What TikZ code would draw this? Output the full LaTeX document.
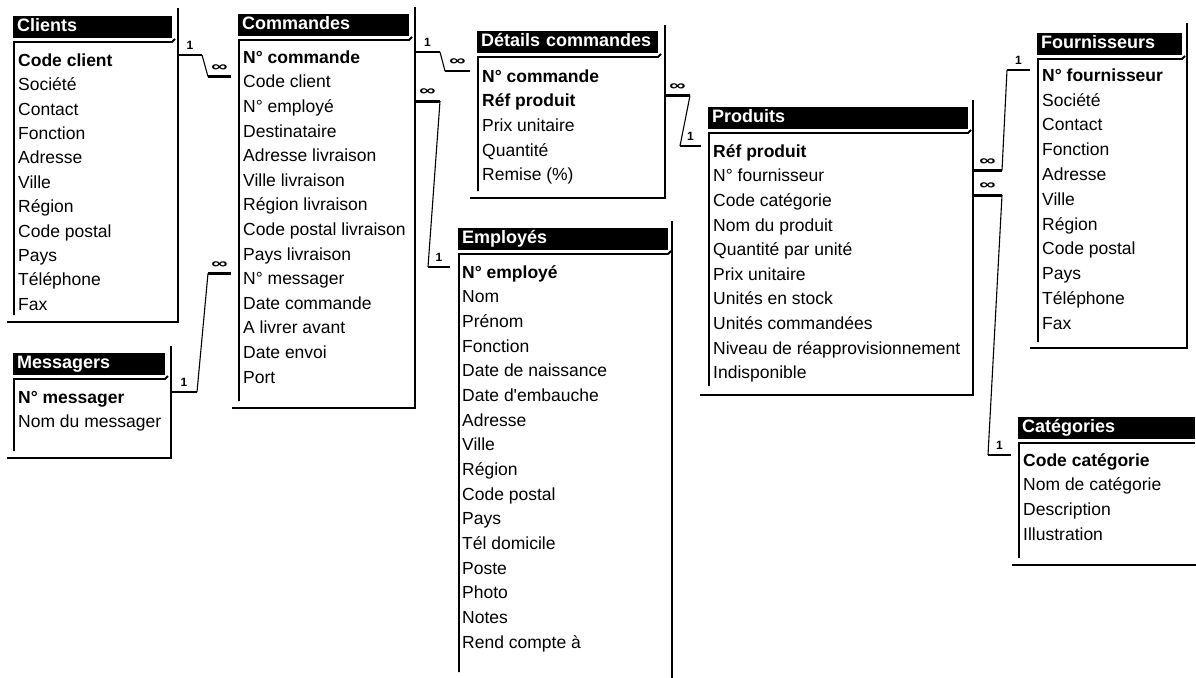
\documentclass[tikz,border=0pt]{standalone}
\usepackage{fontspec}
\usepackage{graphicx}
\setmainfont{Liberation Sans}
\newcommand{\manysym}{\scalebox{1.9}[1.2]{∞}}
\begin{document}
\begin{tikzpicture}[x=1pt,y=-1pt,
  titlebar/.style={anchor=north west, fill=black, text=white, font=\fontsize{18}{20}\selectfont\bfseries,
    inner xsep=4pt, inner ysep=0pt, minimum height=22pt, text height=13pt, text depth=4pt, align=left},
  field/.style={anchor=west, inner sep=0pt, text height=12.6pt, text depth=0pt, font=\fontsize{17.5}{19}\selectfont},
  keyfield/.style={field, font=\fontsize{17.5}{19}\selectfont\bfseries},
  frame/.style={line width=2.6pt},
  edge/.style={line width=1.8pt},
  stub/.style={line width=2.6pt},
  link/.style={line width=1.1pt},
  card/.style={midway, above=4pt, inner sep=0pt, font=\fontsize{12}{12}\selectfont\bfseries}]
  \useasboundingbox (0,0) rectangle (1196,677);
  % table Clients
  \node[titlebar, text width=151pt] (cli) at (13,16) {Clients};
  \coordinate (cli-ne) at (178,8);
  \draw[frame] (cli-ne) -- (178,322) -- (7,322);
  \draw[edge] (14,315) -- (14,42) -- (172,42) -- (175,39);
  \node[keyfield] (cli-1) at (18,60) {Code client};
  \foreach \f [count=\i from 2] in {Société,Contact,Fonction,Adresse,Ville,Région,Code postal,Pays,Téléphone,Fax}
    \node[field] (cli-\i) at (18,{60+(\i-1)*24.4}) {\f};
  % table Messagers
  \node[titlebar, text width=144pt] (mes) at (13,353) {Messagers};
  \coordinate (mes-ne) at (171,346);
  \draw[frame] (mes-ne) -- (171,458) -- (7,458);
  \draw[edge] (14,451) -- (14,379) -- (165,379) -- (168,376);
  \node[keyfield] (mes-1) at (18,397) {N° messager};
  \node[field] (mes-2) at (18,421.6) {Nom du messager};
  % table Commandes
  \node[titlebar, text width=163pt] (cmd) at (238,14) {Commandes};
  \coordinate (cmd-ne) at (415,7);
  \draw[frame] (cmd-ne) -- (415,408) -- (232,408);
  \draw[edge] (239,401) -- (239,40) -- (409,40) -- (412,37);
  \node[keyfield] (cmd-1) at (243,57) {N° commande};
  \foreach \f [count=\i from 2] in {Code client,N° employé,Destinataire,Adresse livraison,Ville livraison,Région livraison,Code postal livraison,Pays livraison,N° messager,Date commande,A livrer avant,Date envoi,Port}
    \node[field] (cmd-\i) at (243,{57+(\i-1)*24.6}) {\f};
  % table Details commandes
  \node[titlebar, text width=173pt] (det) at (477,31) {Détails commandes};
  \coordinate (det-ne) at (665,25);
  \draw[frame] (det-ne) -- (665,198) -- (470,198);
  \draw[edge] (478,191) -- (478,57) -- (658,57) -- (661,54);
  \node[keyfield] (det-1) at (482,76) {N° commande};
  \node[keyfield] (det-2) at (482,100.6) {Réf produit};
  \foreach \f [count=\i from 3] in {Prix unitaire,Quantité,Remise (\%)}
    \node[field] (det-\i) at (482,{76+(\i-1)*24.6}) {\f};
  % table Employes
  \node[titlebar, text width=202pt] (emp) at (458,228) {Employés};
  \coordinate (emp-ne) at (672,221);
  \draw[frame] (emp-ne) -- (672,680);
  \draw[edge] (459,672) -- (459,254) -- (668,254) -- (671,251);
  \node[keyfield] (emp-1) at (462,272) {N° employé};
  \foreach \f [count=\i from 2] in {Nom,Prénom,Fonction,Date de naissance,Date d\textquotesingle embauche,Adresse,Ville,Région,Code postal,Pays,Tél domicile,Poste,Photo,Notes,Rend compte à}
    \node[field] (emp-\i) at (462,{272+(\i-1)*24.65}) {\f};
  % table Produits
  \node[titlebar, text width=252pt] (pro) at (708,107) {Produits};
  \coordinate (pro-ne) at (973,100);
  \draw[frame] (pro-ne) -- (973,395) -- (700,395);
  \draw[edge] (709,386) -- (709,133) -- (968,133) -- (971,130);
  \node[keyfield] (pro-1) at (713,151) {Réf produit};
  \foreach \f [count=\i from 2] in {N° fournisseur,Code catégorie,Nom du produit,Quantité par unité,Prix unitaire,Unités en stock,Unités commandées,Niveau de réapprovisionnement,Indisponible}
    \node[field] (pro-\i) at (713,{151+(\i-1)*24.6}) {\f};
  % table Fournisseurs
  \node[titlebar, text width=137pt] (fou) at (1037,33) {Fournisseurs};
  \coordinate (fou-ne) at (1187,23);
  \draw[frame] (fou-ne) -- (1187,348) -- (1030,348);
  \draw[edge] (1038,342) -- (1038,59) -- (1182,59) -- (1185,56);
  \node[keyfield] (fou-1) at (1042,75) {N° fournisseur};
  \foreach \f [count=\i from 2] in {Société,Contact,Fonction,Adresse,Ville,Région,Code postal,Pays,Téléphone,Fax}
    \node[field] (fou-\i) at (1042,{75+(\i-1)*24.8}) {\f};
  % table Categories
  \node[titlebar, text width=169pt] (cat) at (1018,417) {Catégories};
  \draw[frame] (1200,565) -- (1012,565);
  \draw[edge] (1019,558) -- (1019,443) -- (1195,443);
  \node[keyfield] (cat-1) at (1023,460) {Code catégorie};
  \foreach \f [count=\i from 2] in {Nom de catégorie,Description,Illustration}
    \node[field] (cat-\i) at (1023,{460+(\i-1)*24.6}) {\f};
  % relation Clients - Commandes
  \draw[stub] ([yshift=5pt]cli-1.west -| cli-ne) -- ++(24,0) coordinate (k1a) node[card] {1};
  \draw[stub] ([xshift=-12pt,yshift=5pt]cmd-2.west) -- ++(-23,0) coordinate (k1b) node[card] {\manysym};
  \draw[link] (k1a) -- (k1b);
  % relation Messagers - Commandes
  \draw[stub] ([yshift=5pt]mes-1.west -| mes-ne) -- ++(26,0) coordinate (k2a) node[card] {1};
  \draw[stub] ([xshift=-12pt,yshift=5pt]cmd-10.west) -- ++(-23,0) coordinate (k2b) node[card] {\manysym};
  \draw[link] (k2a) -- (k2b);
  % relation Commandes - Details commandes
  \draw[stub] ([yshift=5pt]cmd-1.west -| cmd-ne) -- ++(25,0) coordinate (k3a) node[card] {1};
  \draw[stub] ([xshift=-12pt,yshift=5pt]det-1.west) -- ++(-25,0) coordinate (k3b) node[card] {\manysym};
  \draw[link] (k3a) -- (k3b);
  % relation Commandes - Employes
  \draw[stub] ([yshift=5pt]cmd-3.west -| cmd-ne) -- ++(25,0) coordinate (k4a) node[card] {\manysym};
  \draw[stub] ([xshift=-12pt,yshift=5pt]emp-1.west) -- ++(-22,0) coordinate (k4b) node[card] {1};
  \draw[link] (k4a) -- (k4b);
  % relation Details commandes - Produits
  \draw[stub] ([yshift=5pt]det-2.west -| det-ne) -- ++(25,0) coordinate (k5a) node[card] {\manysym};
  \draw[stub] ([xshift=-12pt,yshift=5pt]pro-1.west) -- ++(-21,0) coordinate (k5b) node[card] {1};
  \draw[link] (k5a) -- (k5b);
  % relation Produits - Fournisseurs
  \draw[stub] ([yshift=5pt]pro-2.west -| pro-ne) -- ++(29,0) coordinate (k6a) node[card] {\manysym};
  \draw[stub] ([xshift=-12pt,yshift=5pt]fou-1.west) -- ++(-23,0) coordinate (k6b) node[card] {1};
  \draw[link] (k6a) -- (k6b);
  % relation Produits - Categories
  \draw[stub] ([yshift=5pt]pro-3.west -| pro-ne) -- ++(29,0) coordinate (k7a) node[card] {\manysym};
  \draw[stub] ([xshift=-12pt,yshift=5pt]cat-1.west) -- ++(-23,0) coordinate (k7b) node[card] {1};
  \draw[link] (k7a) -- (k7b);
\end{tikzpicture}
\end{document}
